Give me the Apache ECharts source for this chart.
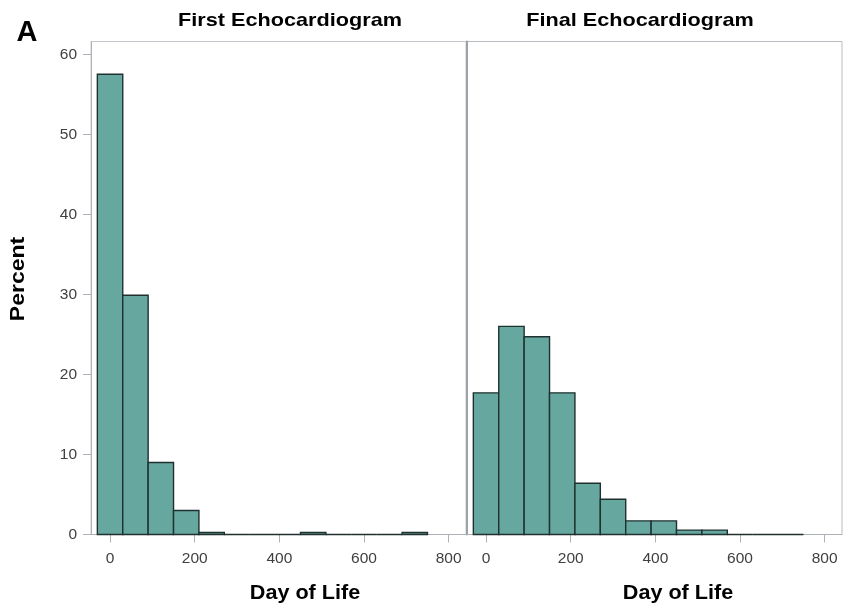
<!DOCTYPE html>
<html>
<head>
<meta charset="utf-8">
<script src="https://cdn.jsdelivr.net/npm/echarts@6/dist/echarts.min.js"></script>
<style>
html,body{margin:0;padding:0;background:#fff;}
#chart{width:843px;height:606px;}
</style>
</head>
<body>
<div id="chart"></div>
<script>
// Histogram bins (bin centers, days) — bin width 60 days
var binCenters = [0, 60, 120, 180, 240, 300, 360, 420, 480, 540, 600, 660, 720];
var binWidth = 60;
// Percent per bin
var firstEcho = [57.5, 29.9, 9.0, 3.0, 0.25, 0, 0, 0, 0.25, 0, 0, 0, 0.25];
var finalEcho = [17.7, 26.0, 24.7, 17.7, 6.4, 4.4, 1.7, 1.7, 0.55, 0.55, 0, 0, 0];
// Axis ticks
var xTicks = [0, 200, 400, 600, 800];
var yTicks = [0, 10, 20, 30, 40, 50, 60];
var panelTitles = ['First Echocardiogram', 'Final Echocardiogram'];
var xAxisTitle = 'Day of Life';
var yAxisTitle = 'Percent';
var panelLetter = 'A';

var FONT = '"Liberation Sans", Arial, Helvetica, sans-serif';
var FILL = '#66a8a0';
var STROKE = '#1f302e';

function toData(vals) {
  return binCenters.map(function (c, i) { return [c, vals[i]]; });
}

function renderBar(params, api) {
  var c = api.value(0), v = api.value(1);
  var p0 = api.coord([c - binWidth / 2, v]);
  var p1 = api.coord([c + binWidth / 2, 0]);
  return {
    type: 'rect',
    shape: { x: p0[0], y: p0[1], width: p1[0] - p0[0], height: p1[1] - p0[1] },
    style: { fill: FILL, stroke: STROKE, lineWidth: 1.4 }
  };
}

function xAxisCfg(gridIndex) {
  return {
    type: 'value', gridIndex: gridIndex, min: -45, max: 841,
    interval: 200,
    axisLine: { show: true, onZero: false, lineStyle: { color: '#aeb2b6', width: 1 } },
    axisTick: { show: true, length: 8, customValues: xTicks, lineStyle: { color: '#aeb2b6' } },
    axisLabel: { show: true, margin: 16, color: '#404040', fontSize: 15.5, fontFamily: FONT, customValues: xTicks },
    splitLine: { show: false }
  };
}

function yAxisCfg(gridIndex, showLabels) {
  return {
    type: 'value', gridIndex: gridIndex, min: 0, max: 61.6, interval: 10,
    axisLine: { show: true, onZero: false, lineStyle: showLabels ? { color: '#aeb2b6', width: 1 } : { color: '#9ea2a6', width: 2 } },
    axisTick: { show: showLabels, length: 8, customValues: yTicks, lineStyle: { color: '#aeb2b6' } },
    axisLabel: { show: showLabels, margin: 14, color: '#404040', fontSize: 15.5, fontFamily: FONT, customValues: yTicks },
    splitLine: { show: false }
  };
}

var option = {
  backgroundColor: '#ffffff',
  animation: false,
  grid: [
    { left: 91, top: 41.5, width: 375, height: 493, show: true, borderColor: '#c4c8cc', borderWidth: 1 },
    { left: 467, top: 41.5, width: 375, height: 493, show: true, borderColor: '#b8bcc0', borderWidth: 1 }
  ],
  xAxis: [xAxisCfg(0), xAxisCfg(1)],
  yAxis: [yAxisCfg(0, true), yAxisCfg(1, false)],
  series: [
    { type: 'custom', xAxisIndex: 0, yAxisIndex: 0, renderItem: renderBar, data: toData(firstEcho), encode: { x: 0, y: 1 } },
    { type: 'custom', xAxisIndex: 1, yAxisIndex: 1, renderItem: renderBar, data: toData(finalEcho), encode: { x: 0, y: 1 } }
  ],
  graphic: [
    { type: 'text', x: 27, y: 33, style: { text: panelLetter, font: 'bold 29px ' + FONT, fill: '#000', textAlign: 'center', textVerticalAlign: 'middle' } },
    { type: 'text', x: 290, y: 20.5, scaleX: 1.14, style: { text: panelTitles[0], font: 'bold 19px ' + FONT, fill: '#000', textAlign: 'center', textVerticalAlign: 'middle' } },
    { type: 'text', x: 640, y: 20.5, scaleX: 1.14, style: { text: panelTitles[1], font: 'bold 19px ' + FONT, fill: '#000', textAlign: 'center', textVerticalAlign: 'middle' } },
    { type: 'text', x: 305, y: 593, scaleX: 1.08, style: { text: xAxisTitle, font: 'bold 20px ' + FONT, fill: '#000', textAlign: 'center', textVerticalAlign: 'middle' } },
    { type: 'text', x: 305 + 373, y: 593, scaleX: 1.08, style: { text: xAxisTitle, font: 'bold 20px ' + FONT, fill: '#000', textAlign: 'center', textVerticalAlign: 'middle' } },
    { type: 'text', x: 18, y: 279, rotation: Math.PI / 2, scaleX: 1.15, style: { text: yAxisTitle, font: 'bold 20px ' + FONT, fill: '#000', textAlign: 'center', textVerticalAlign: 'middle' } }
  ]
};

var chart = echarts.init(document.getElementById('chart'), null, { renderer: 'canvas' });
chart.setOption(option);
</script>
</body>
</html>
